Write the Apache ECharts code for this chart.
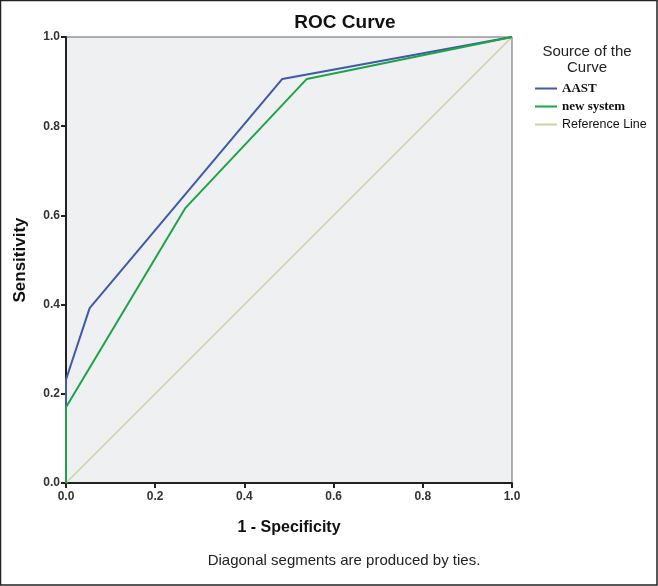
<!DOCTYPE html>
<html><head><meta charset="utf-8">
<script src="https://cdn.jsdelivr.net/npm/echarts@6/dist/echarts.min.js"></script>
<style>html,body{margin:0;padding:0;background:#fff}#c{width:658px;height:586px}</style>
</head><body><div id="c"></div>
<script>
var aastX = [0, 0, 0.053, 0.485, 1];
var aastY = [0, 0.232, 0.392, 0.906, 1];
var newX = [0, 0, 0.268, 0.54, 1];
var newY = [0, 0.17, 0.617, 0.906, 1];
var refX = [0, 1];
var refY = [0, 1];
var xTicks = [0, 0.2, 0.4, 0.6, 0.8, 1.0];
var yTicks = [0, 0.2, 0.4, 0.6, 0.8, 1.0];
var seriesNames = ['AAST', 'new system', 'Reference Line'];

function pairs(xs, ys) { return xs.map(function (x, i) { return [x, ys[i]]; }); }

var chart = echarts.init(document.getElementById('c'), null, {renderer: 'canvas'});
var axisLabel = {color: '#333', fontFamily: 'Liberation Sans', fontSize: 12, fontWeight: 'bold',
  formatter: function (v) { return v.toFixed(1); }};
chart.setOption({
  animation: false,
  backgroundColor: '#fff',
  title: {text: 'ROC Curve', left: 340, top: 8, textAlign: 'center',
    textStyle: {fontFamily: 'Liberation Sans', fontSize: 19, fontWeight: 'bold', color: '#111'}},
  grid: {left: 66, right: 146, top: 37, bottom: 103, outerBoundsMode: 'none', containLabel: false,
    show: true, backgroundColor: '#eef0f2', borderColor: '#666', borderWidth: 1},
  xAxis: {type: 'value', min: 0, max: 1, interval: 0.2,
    name: '1 - Specificity', nameLocation: 'middle', nameGap: 37,
    nameTextStyle: {fontFamily: 'Liberation Sans', fontSize: 16, fontWeight: 'bold', color: '#111'},
    axisLine: {show: true, onZero: false, lineStyle: {color: '#222', width: 2}},
    axisTick: {show: true, length: 5, lineStyle: {color: '#222', width: 2}},
    axisLabel: axisLabel, splitLine: {show: false}},
  yAxis: {type: 'value', min: 0, max: 1, interval: 0.2,
    name: 'Sensitivity', nameLocation: 'middle', nameGap: 37,
    nameTextStyle: {fontFamily: 'Liberation Sans', fontSize: 17, fontWeight: 'bold', color: '#111'},
    axisLine: {show: true, onZero: false, lineStyle: {color: '#222', width: 2}},
    axisTick: {show: true, length: 5, lineStyle: {color: '#222', width: 2}},
    axisLabel: Object.assign({}, axisLabel, {margin: 6}), splitLine: {show: false}},
  legend: {orient: 'vertical', left: 530, top: 77, itemGap: 5, itemWidth: 22, itemHeight: 12,
    data: seriesNames.map(function (n) { return {name: n, icon: 'path://M0,5 L22,5 L22,7 L0,7 Z'}; }),
    formatter: function (n) { return n === 'Reference Line' ? '{s|' + n + '}' : '{r|' + n + '}'; },
    textStyle: {rich: {
      r: {fontFamily: 'Liberation Serif', fontSize: 13, fontWeight: 'bold', color: '#111'},
      s: {fontFamily: 'Liberation Sans', fontSize: 12.5, color: '#111'}}}},
  graphic: [
    {type: 'rect', shape: {x: 0.5, y: 0.5, width: 656.5, height: 584.5}, style: {fill: 'none', stroke: '#222', lineWidth: 1.5}, silent: true},
    {type: 'text', style: {x: 587, y: 44, text: 'Source of the\nCurve', align: 'center', textAlign: 'center', fontFamily: 'Liberation Sans', fontSize: 15, lineHeight: 16, fill: '#222'}},
    {type: 'text', style: {x: 344, y: 553, text: 'Diagonal segments are produced by ties.', align: 'center', textAlign: 'center', fontFamily: 'Liberation Sans', fontSize: 15, fill: '#222'}}
  ],
  series: [
    {name: 'AAST', type: 'line', data: pairs(aastX, aastY), symbol: 'none', lineStyle: {color: '#3f5aa8', width: 2}, itemStyle: {color: '#3f5aa8'}, z: 4},
    {name: 'new system', type: 'line', data: pairs(newX, newY), symbol: 'none', lineStyle: {color: '#1fa347', width: 2}, itemStyle: {color: '#1fa347'}, z: 5},
    {name: 'Reference Line', type: 'line', data: pairs(refX, refY), symbol: 'none', lineStyle: {color: '#d3cf9b', width: 1.5}, itemStyle: {color: '#d3cf9b'}, z: 3}
  ]
});
</script></body></html>
